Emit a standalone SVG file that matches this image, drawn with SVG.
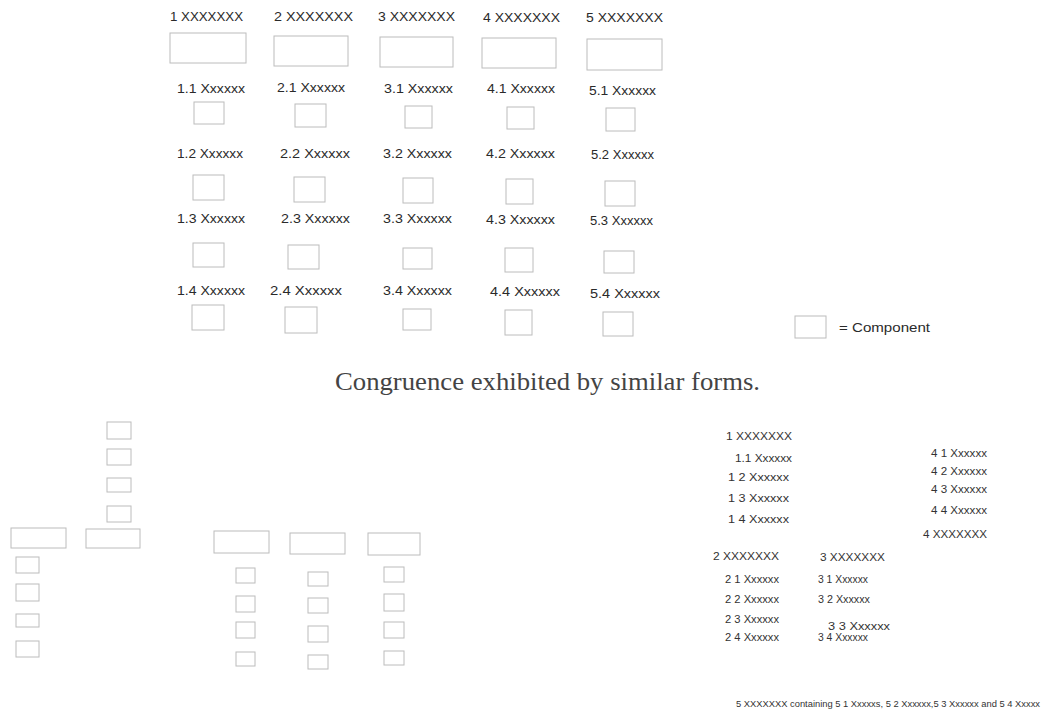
<svg xmlns="http://www.w3.org/2000/svg" width="1047" height="718" viewBox="0 0 1047 718">
<style>
.b{fill:none;stroke:#bcbcbc;stroke-width:1}
.h{font-family:"Liberation Sans",Arial,sans-serif;font-size:12.5px;fill:#2a2a2a}
.l{font-family:"Liberation Sans",Arial,sans-serif;font-size:12.5px;fill:#2a2a2a}
.s{font-family:"Liberation Sans",Arial,sans-serif;font-size:10px;fill:#333}
.f{font-family:"Liberation Sans",Arial,sans-serif;font-size:9px;fill:#333}
.c{font-family:"Liberation Serif","Times New Roman",serif;font-size:26px;fill:#444}
</style>
<rect width="1047" height="718" fill="#fff"/>
<g id="connectors"/>
<g id="col1">
<text class="h" x="170" y="21" textLength="73" lengthAdjust="spacingAndGlyphs">1 XXXXXXX</text>
<rect class="b" x="170" y="33" width="76" height="30"/>
<text class="l" x="177" y="93" textLength="68" lengthAdjust="spacingAndGlyphs">1.1 Xxxxxx</text>
<rect class="b" x="194" y="102" width="30" height="22"/>
<text class="l" x="177" y="158" textLength="66" lengthAdjust="spacingAndGlyphs">1.2 Xxxxxx</text>
<rect class="b" x="193" y="175" width="31" height="25"/>
<text class="l" x="177" y="223" textLength="68" lengthAdjust="spacingAndGlyphs">1.3 Xxxxxx</text>
<rect class="b" x="193" y="243" width="31" height="24"/>
<text class="l" x="177" y="295" textLength="68" lengthAdjust="spacingAndGlyphs">1.4 Xxxxxx</text>
<rect class="b" x="192" y="305" width="32" height="25"/>
</g>
<g id="col2">
<text class="h" x="274" y="21" textLength="79" lengthAdjust="spacingAndGlyphs">2 XXXXXXX</text>
<rect class="b" x="274" y="36" width="74" height="30"/>
<text class="l" x="277" y="92" textLength="68" lengthAdjust="spacingAndGlyphs">2.1 Xxxxxx</text>
<rect class="b" x="295" y="104" width="31" height="23"/>
<text class="l" x="280" y="158" textLength="70" lengthAdjust="spacingAndGlyphs">2.2 Xxxxxx</text>
<rect class="b" x="294" y="177" width="31" height="25"/>
<text class="l" x="281" y="223" textLength="69" lengthAdjust="spacingAndGlyphs">2.3 Xxxxxx</text>
<rect class="b" x="288" y="245" width="31" height="24"/>
<text class="l" x="270" y="295" textLength="72" lengthAdjust="spacingAndGlyphs">2.4 Xxxxxx</text>
<rect class="b" x="285" y="307" width="32" height="26"/>
</g>
<g id="col3">
<text class="h" x="378" y="21" textLength="77" lengthAdjust="spacingAndGlyphs">3 XXXXXXX</text>
<rect class="b" x="380" y="37" width="73" height="30"/>
<text class="l" x="384" y="93" textLength="69" lengthAdjust="spacingAndGlyphs">3.1 Xxxxxx</text>
<rect class="b" x="405" y="106" width="27" height="22"/>
<text class="l" x="383" y="158" textLength="69" lengthAdjust="spacingAndGlyphs">3.2 Xxxxxx</text>
<rect class="b" x="403" y="178" width="30" height="25"/>
<text class="l" x="383" y="223" textLength="69" lengthAdjust="spacingAndGlyphs">3.3 Xxxxxx</text>
<rect class="b" x="403" y="248" width="29" height="21"/>
<text class="l" x="383" y="295" textLength="69" lengthAdjust="spacingAndGlyphs">3.4 Xxxxxx</text>
<rect class="b" x="403" y="309" width="28" height="21"/>
</g>
<g id="col4">
<text class="h" x="483" y="22" textLength="77" lengthAdjust="spacingAndGlyphs">4 XXXXXXX</text>
<rect class="b" x="482" y="38" width="74" height="30"/>
<text class="l" x="487" y="93" textLength="68" lengthAdjust="spacingAndGlyphs">4.1 Xxxxxx</text>
<rect class="b" x="507" y="107" width="27" height="22"/>
<text class="l" x="486" y="158" textLength="69" lengthAdjust="spacingAndGlyphs">4.2 Xxxxxx</text>
<rect class="b" x="506" y="179" width="27" height="25"/>
<text class="l" x="486" y="224" textLength="69" lengthAdjust="spacingAndGlyphs">4.3 Xxxxxx</text>
<rect class="b" x="505" y="248" width="28" height="24"/>
<text class="l" x="490" y="296" textLength="70" lengthAdjust="spacingAndGlyphs">4.4 Xxxxxx</text>
<rect class="b" x="505" y="310" width="27" height="25"/>
</g>
<g id="col5">
<text class="h" x="586" y="22" textLength="77" lengthAdjust="spacingAndGlyphs">5 XXXXXXX</text>
<rect class="b" x="587" y="39" width="75" height="31"/>
<text class="l" x="589" y="95" textLength="67" lengthAdjust="spacingAndGlyphs">5.1 Xxxxxx</text>
<rect class="b" x="606" y="108" width="29" height="23"/>
<text class="l" x="591" y="159" textLength="63" lengthAdjust="spacingAndGlyphs">5.2 Xxxxxx</text>
<rect class="b" x="605" y="181" width="30" height="25"/>
<text class="l" x="590" y="225" textLength="63" lengthAdjust="spacingAndGlyphs">5.3 Xxxxxx</text>
<rect class="b" x="604" y="251" width="30" height="22"/>
<text class="l" x="590" y="298" textLength="70" lengthAdjust="spacingAndGlyphs">5.4 Xxxxxx</text>
<rect class="b" x="603" y="312" width="30" height="24"/>
</g>
<g id="legend">
<rect class="b" x="795" y="316" width="31" height="22"/>
<text class="l" x="839" y="332" textLength="91" lengthAdjust="spacingAndGlyphs">= Component</text>
</g>
<g id="caption">
<text class="c" x="335" y="390" textLength="425" lengthAdjust="spacingAndGlyphs">Congruence exhibited by similar forms.</text>
</g>
<g id="form-a">
<rect class="b" x="11" y="528" width="55" height="20"/>
<rect class="b" x="16" y="557" width="23" height="16"/>
<rect class="b" x="16" y="584" width="23" height="17"/>
<rect class="b" x="16" y="614" width="23" height="13"/>
<rect class="b" x="16" y="641" width="23" height="16"/>
</g>
<g id="form-b">
<rect class="b" x="107" y="422" width="24" height="17"/>
<rect class="b" x="107" y="449" width="24" height="16"/>
<rect class="b" x="107" y="478" width="24" height="14"/>
<rect class="b" x="107" y="506" width="24" height="16"/>
<rect class="b" x="86" y="529" width="54" height="19"/>
</g>
<g id="form-c1">
<rect class="b" x="214" y="531" width="55" height="22"/>
<rect class="b" x="236" y="568" width="19" height="15"/>
<rect class="b" x="236" y="596" width="19" height="16"/>
<rect class="b" x="236" y="622" width="19" height="16"/>
<rect class="b" x="236" y="652" width="19" height="14"/>
</g>
<g id="form-c2">
<rect class="b" x="290" y="533" width="55" height="21"/>
<rect class="b" x="308" y="572" width="20" height="14"/>
<rect class="b" x="308" y="598" width="20" height="15"/>
<rect class="b" x="308" y="626" width="20" height="16"/>
<rect class="b" x="308" y="655" width="20" height="14"/>
</g>
<g id="form-c3">
<rect class="b" x="368" y="533" width="52" height="22"/>
<rect class="b" x="384" y="567" width="20" height="15"/>
<rect class="b" x="384" y="594" width="20" height="17"/>
<rect class="b" x="384" y="622" width="20" height="16"/>
<rect class="b" x="384" y="651" width="20" height="14"/>
</g>
<g id="text-group1">
<text class="s" x="726" y="440" textLength="66" lengthAdjust="spacingAndGlyphs">1 XXXXXXX</text>
<text class="s" x="735" y="462" textLength="57" lengthAdjust="spacingAndGlyphs">1.1 Xxxxxx</text>
<text class="s" x="728" y="481" textLength="61" lengthAdjust="spacingAndGlyphs">1 2 Xxxxxx</text>
<text class="s" x="728" y="502" textLength="61" lengthAdjust="spacingAndGlyphs">1 3 Xxxxxx</text>
<text class="s" x="728" y="523" textLength="61" lengthAdjust="spacingAndGlyphs">1 4 Xxxxxx</text>
</g>
<g id="text-group4">
<text class="s" x="931" y="457" textLength="56" lengthAdjust="spacingAndGlyphs">4 1 Xxxxxx</text>
<text class="s" x="931" y="475" textLength="56" lengthAdjust="spacingAndGlyphs">4 2 Xxxxxx</text>
<text class="s" x="931" y="493" textLength="56" lengthAdjust="spacingAndGlyphs">4 3 Xxxxxx</text>
<text class="s" x="931" y="514" textLength="56" lengthAdjust="spacingAndGlyphs">4 4 Xxxxxx</text>
<text class="s" x="923" y="538" textLength="64" lengthAdjust="spacingAndGlyphs">4 XXXXXXX</text>
</g>
<g id="text-group2">
<text class="s" x="713" y="560" textLength="66" lengthAdjust="spacingAndGlyphs">2 XXXXXXX</text>
<text class="s" x="725" y="583" textLength="54" lengthAdjust="spacingAndGlyphs">2 1 Xxxxxx</text>
<text class="s" x="725" y="603" textLength="54" lengthAdjust="spacingAndGlyphs">2 2 Xxxxxx</text>
<text class="s" x="725" y="623" textLength="54" lengthAdjust="spacingAndGlyphs">2 3 Xxxxxx</text>
<text class="s" x="725" y="641" textLength="54" lengthAdjust="spacingAndGlyphs">2 4 Xxxxxx</text>
</g>
<g id="text-group3">
<text class="s" x="820" y="561" textLength="65" lengthAdjust="spacingAndGlyphs">3 XXXXXXX</text>
<text class="s" x="818" y="583" textLength="50" lengthAdjust="spacingAndGlyphs">3 1 Xxxxxx</text>
<text class="s" x="818" y="603" textLength="52" lengthAdjust="spacingAndGlyphs">3 2 Xxxxxx</text>
<text class="s" x="828" y="630" textLength="62" lengthAdjust="spacingAndGlyphs">3 3 Xxxxxx</text>
<text class="s" x="818" y="641" textLength="50" lengthAdjust="spacingAndGlyphs">3 4 Xxxxxx</text>
</g>
<g id="text-group5">
<text class="f" x="736" y="707" textLength="304" lengthAdjust="spacingAndGlyphs">5 XXXXXXX containing 5 1 Xxxxxs, 5 2 Xxxxxx,5 3 Xxxxxx and 5 4 Xxxxx</text>
</g>
</svg>
